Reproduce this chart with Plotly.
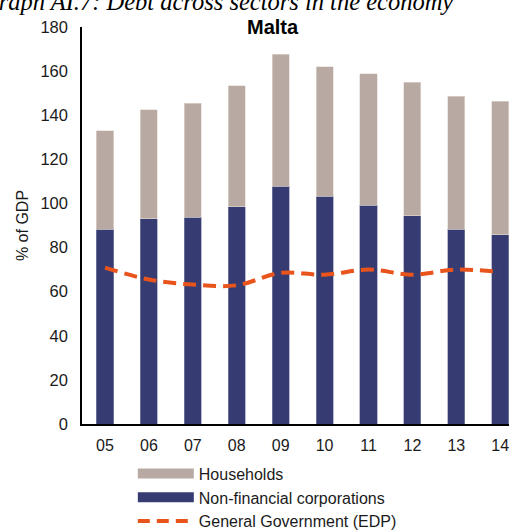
import plotly.graph_objects as go

years = ["05", "06", "07", "08", "09", "10", "11", "12", "13", "14"]
nfc = [88.2, 93.0, 93.8, 98.5, 107.9, 103.2, 99.2, 94.5, 88.2, 85.9]
households = [44.7, 49.4, 51.7, 54.8, 59.7, 58.8, 59.7, 60.5, 60.4, 60.5]
gov = [70.9, 65.5, 63.2, 62.9, 68.5, 67.7, 70.0, 67.7, 70.0, 68.9]

c_hh = "#B8AAA3"
c_nfc = "#363C72"
c_gov = "#E8541C"
FONT = "Liberation Sans, Arial, sans-serif"

fig = go.Figure()
fig.add_trace(go.Bar(x=years, y=nfc, marker=dict(color=c_nfc, line=dict(width=0.6, color="#8C8FB0")),
                     width=0.39, showlegend=False, name="Non-financial corporations"))
fig.add_trace(go.Bar(x=years, y=households, marker=dict(color=c_hh, line=dict(width=0.6, color="#E2DAD6")),
                     width=0.39, showlegend=False, name="Households"))
fig.add_trace(go.Scatter(x=years, y=gov, mode="lines", line=dict(color=c_gov, width=4, dash="13px,7px", shape="spline"),
                         showlegend=False, name="General Government (EDP)"))
# legend entries
fig.add_trace(go.Scatter(x=[None], y=[None], mode="lines", line=dict(color=c_hh, width=10), name="Households"))
fig.add_trace(go.Scatter(x=[None], y=[None], mode="lines", line=dict(color=c_nfc, width=10), name="Non-financial corporations"))
fig.add_trace(go.Scatter(x=[None], y=[None], mode="lines", line=dict(color=c_gov, width=4, dash="12px,7px"),
                         name="General Government (EDP)"))

fig.update_layout(
    width=509, height=530,
    margin=dict(l=82, r=0, t=27, b=106, autoexpand=False),
    barmode="stack",
    plot_bgcolor="white", paper_bgcolor="white",
    font=dict(family=FONT, size=16, color="#1a1a1a"),
    showlegend=True,
    legend=dict(x=0.119, xanchor="left", y=-0.082, yanchor="top", traceorder="normal",
                itemwidth=56, font=dict(size=16, family=FONT), tracegroupgap=0,
                bgcolor="rgba(0,0,0,0)"),
    xaxis=dict(type="category", range=[-0.524, 9.2], showline=True, linecolor="black", linewidth=1.5,
               ticks="", showgrid=False, tickfont=dict(size=16), ticklabelstandoff=6, automargin=False),
    yaxis=dict(range=[0, 180], dtick=20, showline=True, linecolor="black", linewidth=1.5,
               ticks="", showgrid=False, zeroline=False, tickfont=dict(size=16.5), ticklabelstandoff=9,
               automargin=False,
               title=dict(text="% of GDP", font=dict(size=16), standoff=8)),
    annotations=[
        dict(text="<b>Malta</b>", x=(273 - 82) / 427, xref="paper", y=1.0, yref="paper",
             xanchor="center", yanchor="middle", showarrow=False, font=dict(size=20, family=FONT, color="black")),
        dict(text="<i>Graph AI.7: Debt across sectors in the economy</i>", x=-0.241, xref="paper",
             y=1.0, yref="paper", yshift=10, xanchor="left", yanchor="bottom", showarrow=False,
             font=dict(size=24.5, family="Liberation Serif, Times New Roman, serif", color="black")),
    ],
)
fig.write_html("out.html", config={"displayModeBar": False},
               post_script="document.body.style.margin='0';document.body.style.overflow='hidden';")
